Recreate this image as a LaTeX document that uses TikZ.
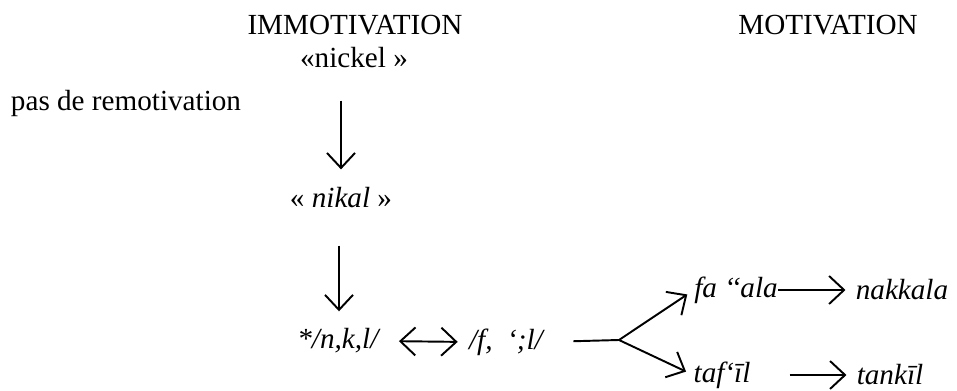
\documentclass[tikz,border=0pt]{standalone}
\usepackage{fontspec}
\setmainfont{Liberation Serif}
\usetikzlibrary{arrows.meta}

\tikzset{
  arr/.style={-{Straight Barb[length=3mm,width=5.6mm]}, line width=1.1pt},
  dblarr/.style={{Straight Barb[length=3mm,width=5.6mm]}-{Straight Barb[length=3mm,width=5.6mm]}, line width=1.1pt},
  lbl/.style={inner sep=0pt}
}

\begin{document}
\begin{tikzpicture}[x=0.02cm, y=-0.02cm, font=\fontsize{16.6}{20}\selectfont]

        \useasboundingbox (0,0) rectangle (957,391);

        % titres
        \node[lbl] (imm) at (355,25) {IMMOTIVATION};
        \node[lbl] (nickel) at (354,58) {«nickel »};
        \node[lbl] (mot) at (828,25) {MOTIVATION};
        \node[lbl] (pas) at (126,103) {pas de remotivation};

        % colonne
        \node[lbl] (nikal) at (341,198) {« \textit{nikal} »};
        \node[lbl] (nkl) at (339,341) {\textit{*/n,k,l/}};
        \node[lbl] (fl) at (507,342) {\textit{/f,\ \ ‘;l/}};

        % branches
        \coordinate (br) at (619,340);
        \node[lbl] (fa) at (736,290) {\textit{fa\ ‘‘ala}};
        \node[lbl] (nak) at (902,290) {\textit{nakkala}};
        \node[lbl] (taf) at (722,375) {\textit{taf‘īl}};
        \node[lbl] (tan) at (890,375) {\textit{tankīl}};

        \draw[arr, shorten <=0.64cm, shorten >=0.36cm] (nickel.south -| nikal.north) -- (nikal.north);
        \draw[arr, shorten <=0.74cm, shorten >=0.34cm] (nikal.south -| nkl.north) -- (nkl.north);
        \draw[dblarr, shorten <=0.36cm, shorten >=0.22cm] (nkl.east) -- (fl.west);

        \draw[line width=1.1pt, shorten <=0.56cm] (fl.east) -- (br);
        \draw[arr, shorten >=0.16cm] (br) -- (fa.west);
        \draw[arr, shorten >=0.16cm] (br) -- (taf.west);

        \draw[arr, shorten >=0.2cm] (fa.east) -- (fa.east -| nak.west);
        \draw[arr, shorten <=0.78cm, shorten >=0.2cm] (taf.east) -- (taf.east -| tan.west);

\end{tikzpicture}
\end{document}
